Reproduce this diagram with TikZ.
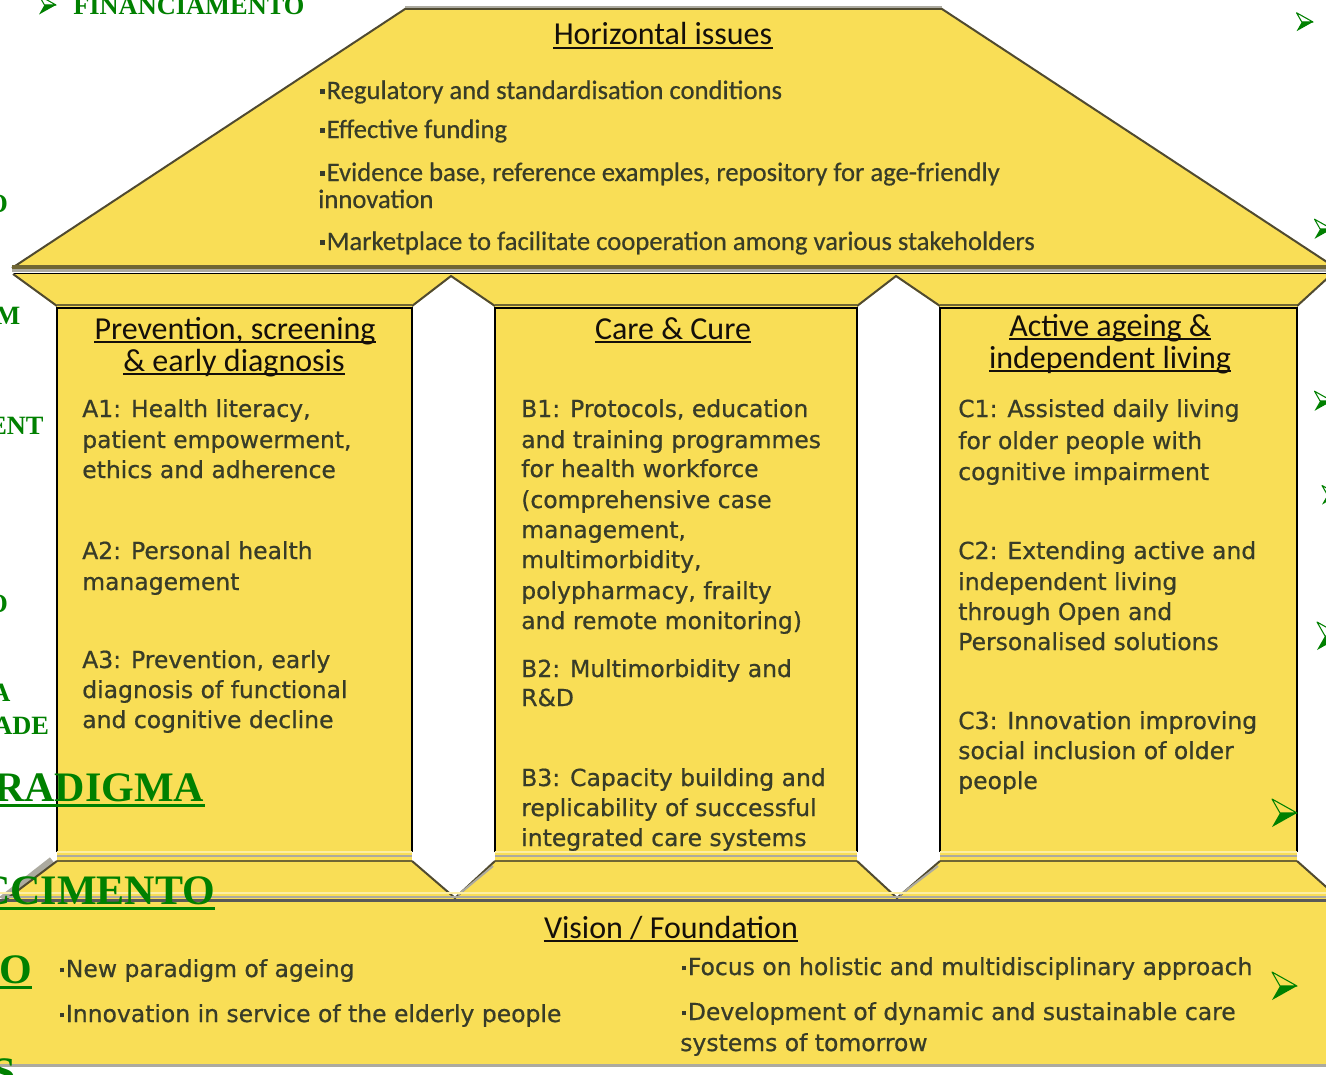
\documentclass[tikz,border=0pt]{standalone}
\usepackage{fontspec}
\setmainfont{DejaVu Sans}
\newfontface\carl{Carlito}[FakeBold=0.5]
\newfontfamily\carlh{Carlito}
\newfontface\dvs{DejaVu Sans}[FakeBold=0.7]
\newfontfamily\tms{Liberation Serif}
\definecolor{Yel}{RGB}{249,222,86}
\definecolor{Edge}{RGB}{80,74,48}
\definecolor{Olive}{RGB}{112,102,52}
\definecolor{Txt}{RGB}{56,60,40}
\definecolor{Hd}{RGB}{20,15,10}
\definecolor{Grn}{RGB}{0,128,0}
\definecolor{LGrey}{RGB}{172,170,160}
\definecolor{Cream}{RGB}{252,238,165}
\newcommand\sq{\raisebox{0.2em}{\rule{0.17em}{0.17em}}\hspace{0.07em}}
\newcommand\bl[4]{\node[body] (#1) at (#2,#3) {#4};}
\newcommand\ulh[1]{\draw[Hd, line width=1.4pt] ([yshift=-2.4pt]#1.base west) -- ([yshift=-2.4pt]#1.base east);}
\newcommand\ulg[1]{\draw[Grn, line width=2.3pt] ([yshift=-3.6pt]#1.base west) -- ([yshift=-3.6pt]#1.base east);}
\begin{document}
\begin{tikzpicture}[x=0.75pt,y=-0.75pt,
  body/.style={anchor=base west, inner sep=0pt, font={\dvs\fontsize{17.6}{21}\selectfont}, text=Txt},
  rooftxt/.style={anchor=base west, inner sep=0pt, font={\carl\fontsize{20}{24}\selectfont}, text=Txt},
  head/.style={anchor=base, inner sep=0pt, font={\carlh\fontsize{24}{26}\selectfont}, text=Hd},
  grn/.style={anchor=base west, inner sep=0pt, font={\tms\bfseries\fontsize{19.8}{22}\selectfont}, text=Grn},
  grnbig/.style={anchor=base west, inner sep=0pt, font={\tms\bfseries\fontsize{31.5}{34}\selectfont}, text=Grn},
  ahead/.pic={
    \fill[Grn] (0,0) -- (-25,14) -- (-17,0) -- cycle;
    \draw[Grn, line width=0.8pt, line join=round] (0,0) -- (-25,-14) -- (-17,0) -- cycle;
  },
  pillar/.style={fill=Yel},
  pedge/.style={draw=black, line width=2.2pt},
  slant/.style={draw=Edge, line width=1.5pt}
]
\useasboundingbox (0,0) rectangle (1326,1074);
\clip (0,0) rectangle (1326,1074);
\fill[white] (0,0) rectangle (1326,1074);

% roof
\fill[Yel] (12,268) -- (405,9) -- (942,9) -- (1336,268) -- cycle;
\draw[slant] (12,268) -- (405,9) -- (942,9) -- (1336,268);
\draw[LGrey, line width=1pt] (405,7) -- (942,7);
\draw[Olive, line width=2.4pt] (12,267) -- (1336,267);
\draw[LGrey, line width=1.6pt] (12,270.5) -- (1336,270.5);
\draw[black, line width=1.1pt] (14,273.5) -- (1334,273.5);

% capital band
\fill[Yel] (13,274) -- (1332,274) -- (1297,307) -- (940,307) -- (896,277) -- (857,307) -- (495,307) -- (451,277) -- (412,307) -- (57,307) -- cycle;
\draw[slant] (13,274) -- (57,306);
\draw[slant] (412,306) -- (451,276) -- (495,306);
\draw[slant] (857,306) -- (896,276) -- (940,306);
\draw[slant] (1332,274) -- (1297,306);
\draw[Olive, line width=2pt] (57,305) -- (412,305) (495,305) -- (857,305) (940,305) -- (1297,305);

% pillars
\fill[pillar] (57,308) rectangle (412,862);
\fill[pillar] (495,308) rectangle (857,862);
\fill[pillar] (940,308) rectangle (1297,862);
\draw[pedge] (57,852) -- (57,308) -- (412,308) -- (412,852);
\draw[pedge] (495,852) -- (495,308) -- (857,308) -- (857,852);
\draw[pedge] (940,852) -- (940,308) -- (1297,308) -- (1297,852);

% plinth
\fill[Yel] (57,862) -- (412,862) -- (455,898) -- (495,862) -- (857,862) -- (897,898) -- (940,862) -- (1297,862) -- (1342,900) -- (4,900) -- cycle;
\foreach \a/\b in {57/412,495/857,940/1297}{
  \draw[Cream, line width=2pt] (\a,852) -- (\b,852);
  \draw[LGrey, line width=2pt] (\a,856) -- (\b,856);
  \draw[Olive, line width=2pt] (\a,861) -- (\b,861);
}
\draw[LGrey, line width=5pt] (52,860) -- (2,899);
\draw[slant] (57,861) -- (4,901);
\draw[slant] (412,861) -- (455,898) -- (495,861);
\draw[LGrey, line width=1.5pt] (458,895) -- (493,866);
\draw[slant] (857,861) -- (897,898) -- (940,861);
\draw[LGrey, line width=1.5pt] (900,895) -- (938,866);
\draw[slant] (1297,861) -- (1342,901);

% base
\fill[Yel] (0,901) rectangle (1326,1064);
\draw[Cream, line width=2pt] (0,893) -- (1326,893);
\draw[LGrey, line width=2pt] (0,897) -- (1326,897);
\draw[gray!70!black, line width=1.6pt] (0,900.5) -- (1326,900.5);
\draw[LGrey, line width=2.4pt] (0,1065.5) -- (1326,1065.5);

% roof text
\node[head] (h0) at (663,45) {Horizontal issues}; \ulh{h0}
\node[rooftxt] (r1) at (320,99) {\sq Regulatory and standardisation conditions};
\node[rooftxt] (r2) at (320,138) {\sq Effective funding};
\node[rooftxt] (r3) at (320,181) {\sq Evidence base, reference examples, repository for age-friendly};
\node[rooftxt] (r3b) at (318,208) {innovation};
\node[rooftxt] (r4) at (320,250) {\sq Marketplace to facilitate cooperation among various stakeholders};

% headings
\node[head] (ha1) at (235,339) {Prevention, screening}; \ulh{ha1}
\node[head] (ha2) at (234,371) {\& early diagnosis}; \ulh{ha2}
\node[head] (hb) at (673,339) {Care \& Cure}; \ulh{hb}
\node[head] (hc1) at (1110,336) {Active ageing \&}; \ulh{hc1}
\node[head] (hc2) at (1110,368) {independent living}; \ulh{hc2}

% pillar A
\bl{a1}{82}{417}{A1: Health literacy,}
\bl{a2}{82}{448}{patient empowerment,}
\bl{a3}{82}{478}{ethics and adherence}
\bl{a4}{82}{559}{A2: Personal health}
\bl{a5}{82}{590}{management}
\bl{a6}{82}{668}{A3: Prevention, early}
\bl{a7}{82}{698}{diagnosis of functional}
\bl{a8}{82}{728}{and cognitive decline}
% pillar B
\bl{b1}{521}{417}{B1: Protocols, education}
\bl{b2}{521}{448}{and training programmes}
\bl{b3}{521}{477}{for health workforce}
\bl{b4}{521}{508}{(comprehensive case}
\bl{b5}{521}{538}{management,}
\bl{b6}{521}{568}{multimorbidity,}
\bl{b7}{521}{599}{polypharmacy, frailty}
\bl{b8}{521}{629}{and remote monitoring)}
\bl{b9}{521}{677}{B2: Multimorbidity and}
\bl{b10}{521}{706}{R\&D}
\bl{b11}{521}{786}{B3: Capacity building and}
\bl{b12}{521}{816}{replicability of successful}
\bl{b13}{521}{846}{integrated care systems}
% pillar C
\bl{c1}{958}{417}{C1: Assisted daily living}
\bl{c2}{958}{449}{for older people with}
\bl{c3}{958}{480}{cognitive impairment}
\bl{c4}{958}{559}{C2: Extending active and}
\bl{c5}{958}{590}{independent living}
\bl{c6}{958}{620}{through Open and}
\bl{c7}{958}{650}{Personalised solutions}
\bl{c8}{958}{729}{C3: Innovation improving}
\bl{c9}{958}{759}{social inclusion of older}
\bl{c10}{958}{789}{people}

% foundation
\node[head] (hv) at (671,938) {Vision / Foundation}; \ulh{hv}
\bl{v1}{60}{977}{\sq New paradigm of ageing}
\bl{v2}{60}{1022}{\sq Innovation in service of the elderly people}
\bl{v3}{682}{975}{\sq Focus on holistic and multidisciplinary approach}
\bl{v4}{682}{1020}{\sq Development of dynamic and sustainable care}
\bl{v5}{680}{1051}{systems of tomorrow}

% background green text (on top)
\pic[scale=0.68] at (56,5) {ahead};
\node[grn] (g0) at (73,15) {FINANCIAMENTO};
\node[grn] (g1) at (-13,212) {O};
\node[grn] (g2) at (-5,324) {M};
\node[grn] (g3) at (-11,434) {ENT};
\node[grn] (g4) at (-13,612) {O};
\node[grn] (g5) at (-9,701) {A};
\node[grn] (g6) at (-7,734) {ADE};
\node[grnbig] (g7) at (-6,801) {RADIGMA}; \ulg{g7}
\node[grnbig] (g8) at (-20,904) {CCIMENTO}; \ulg{g8}
\node[grnbig] (g9) at (-1,983) {O}; \ulg{g9}
\node[grnbig] (g10) at (-8,1086) {S};
\pic[scale=0.66] at (1313,22) {ahead};
\pic[scale=0.7] at (1332,229) {ahead};
\pic[scale=0.7] at (1332,401) {ahead};
\pic[scale=0.68] at (1339,495) {ahead};
\pic at (1342,636) {ahead};
\pic at (1297,813) {ahead};
\pic at (1297,986) {ahead};
\end{tikzpicture}
\end{document}
